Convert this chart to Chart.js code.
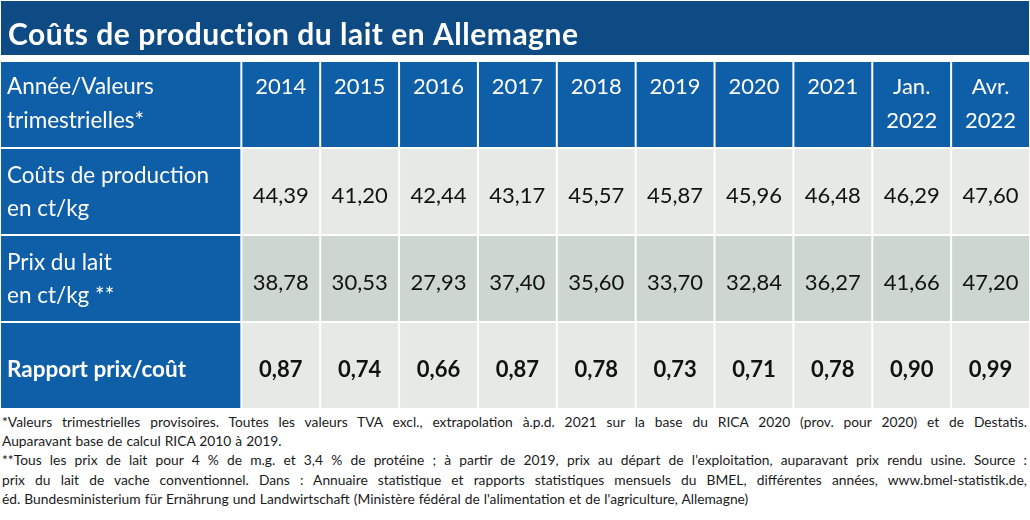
<!DOCTYPE html>
<html lang="fr">
<head>
    <meta charset="UTF-8">
    <title>Coûts de production du lait en Allemagne</title>
    <script src="https://cdn.jsdelivr.net/npm/chart.js"></script>
    <style>
        body { margin: 0; background: #fff; font-family: Lato, sans-serif; }
        #wrap { position: relative; width: 1030px; height: 410px; }
        #notes { position: absolute; top: 412px; left: 2px; width: 1025px; font-size: 13.8px; line-height: 19.2px; word-spacing: 0.5px; color: #1a1a1a; }
        #notes .full { text-align: justify; text-align-last: justify; }
    </style>
</head>
<body>
    <div id="wrap"><canvas id="costTable"></canvas></div>
    <div id="notes">
        <div class="full">*Valeurs trimestrielles provisoires. Toutes les valeurs TVA excl., extrapolation à.p.d. 2021 sur la base du RICA 2020 (prov. pour 2020) et de Destatis.</div>
        <div>Auparavant base de calcul RICA 2010 à 2019.</div>
        <div class="full">**Tous les prix de lait pour 4 % de m.g. et 3,4 % de protéine ; à partir de 2019, prix au départ de l’exploitation, auparavant prix rendu usine. Source :</div>
        <div class="full">prix du lait de vache conventionnel. Dans : Annuaire statistique et rapports statistiques mensuels du BMEL, différentes années, www.bmel-statistik.de,</div>
        <div>éd. Bundesministerium für Ernährung und Landwirtschaft (Ministère fédéral de l'alimentation et de l'agriculture, Allemagne)</div>
    </div>
    <script>
        var title = 'Coûts de production du lait en Allemagne';
        var headerLabel = ['Année/Valeurs', 'trimestrielles*'];
        var periods = ['2014', '2015', '2016', '2017', '2018', '2019', '2020', '2021', 'Jan. 2022', 'Avr. 2022'];
        var rowLabels = [
            ['Coûts de production', 'en ct/kg'],
            ['Prix du lait', 'en ct/kg **'],
            ['Rapport prix/coût']
        ];
        var productionCost = [44.39, 41.20, 42.44, 43.17, 45.57, 45.87, 45.96, 46.48, 46.29, 47.60];
        var milkPrice = [38.78, 30.53, 27.93, 37.40, 35.60, 33.70, 32.84, 36.27, 41.66, 47.20];
        var priceCostRatio = [0.87, 0.74, 0.66, 0.87, 0.78, 0.73, 0.71, 0.78, 0.90, 0.99];

        var series = [productionCost, milkPrice, priceCostRatio];
        var rowKeys = ['head', 'cost', 'price', 'ratio'];
        var FIRST_COL = 3.06; // label column is about 3 data columns wide

        function fmt(v) { return v.toFixed(2).replace('.', ','); }

        // one floating bar per table cell
        var cells = [];
        rowKeys.forEach(function (key, r) {
            for (var c = 0; c <= periods.length; c++) {
                var start = c === 0 ? 0 : FIRST_COL + c - 1;
                var end = c === 0 ? FIRST_COL : FIRST_COL + c;
                var text;
                if (r === 0) text = c === 0 ? headerLabel : periods[c - 1].split(' ');
                else text = c === 0 ? rowLabels[r - 1] : [fmt(series[r - 1][c - 1])];
                cells.push({ x: [start, end], y: key, r: r, c: c, text: text });
            }
        });

        var titleBand = {
            id: 'titleBand',
            beforeDraw: function (chart) {
                var ctx = chart.ctx;
                ctx.save();
                ctx.fillStyle = '#0e4a84';
                ctx.fillRect(1, 1, chart.width - 2, 54);
                ctx.fillStyle = '#fff';
                ctx.font = 'bold 30px Lato';
                ctx.letterSpacing = '0.5px';
                ctx.textBaseline = 'alphabetic';
                ctx.fillText(title, 8, 45);
                ctx.restore();
            }
        };

        var cellText = {
            id: 'cellText',
            afterDatasetsDraw: function (chart) {
                var ctx = chart.ctx;
                var points = chart.data.datasets[0].data;
                ctx.save();
                ctx.textBaseline = 'middle';
                chart.getDatasetMeta(0).data.forEach(function (bar, i) {
                    var cell = points[i];
                    var p = bar.getCenterPoint();
                    var left = Math.min(bar.x, bar.base);
                    var size = cell.c === 0 ? '22.5px' : '22px';
                    ctx.font = (cell.r === 3 ? 'bold ' : '') + size + ' Lato';
                    ctx.fillStyle = (cell.r === 0 || cell.c === 0) ? '#fff' : '#111';
                    ctx.textAlign = cell.c === 0 ? 'left' : 'center';
                    var x = cell.c === 0 ? left + 7 : p.x;
                    cell.text.forEach(function (line, k) {
                        var y;
                        if (cell.r === 0) y = p.y - 17.5 + k * 34;
                        else if (cell.text.length > 1) y = p.y - 16 + k * 33;
                        else y = p.y + 4;
                        ctx.fillText(line, x, y);
                    });
                });
                ctx.restore();
            }
        };

        new Chart(document.getElementById('costTable'), {
            type: 'bar',
            data: {
                datasets: [{
                    data: cells,
                    backgroundColor: function (ctx) {
                        var cell = ctx.raw;
                        if (!cell) return '#fff';
                        if (cell.r === 0 || cell.c === 0) return '#0f5ea8';
                        return cell.r === 2 ? '#cdd6cf' : '#e6e9e6';
                    },
                    borderColor: '#fff',
                    borderWidth: 1,
                    borderSkipped: false,
                    inflateAmount: 0,
                    barPercentage: 1,
                    categoryPercentage: 1
                }]
            },
            options: {
                indexAxis: 'y',
                responsive: true,
                maintainAspectRatio: false,
                animation: false,
                events: [],
                layout: { padding: { top: 61, bottom: 1, left: 0, right: 0 } },
                plugins: { legend: { display: false }, tooltip: { enabled: false } },
                scales: {
                    x: { type: 'linear', min: 0, max: FIRST_COL + periods.length, display: false },
                    y: { type: 'category', labels: rowKeys, offset: true, display: false }
                }
            },
            plugins: [titleBand, cellText]
        });
    </script>
</body>
</html>
